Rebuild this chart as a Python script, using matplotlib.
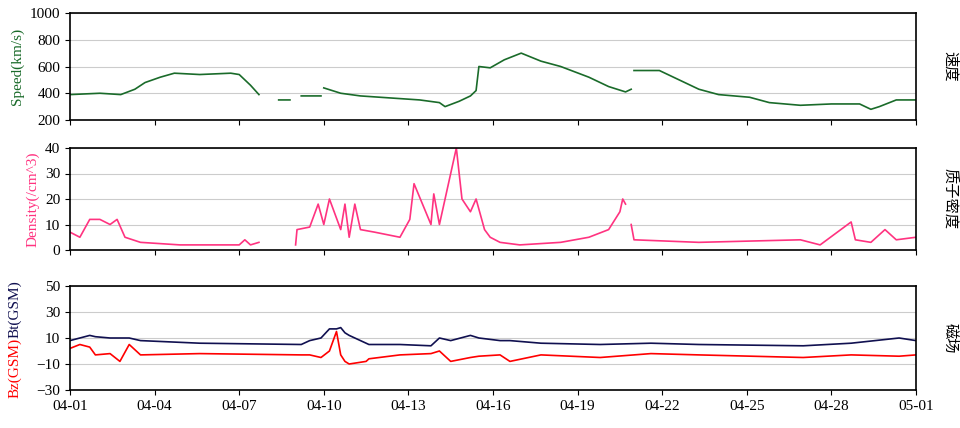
import numpy as np
import matplotlib
matplotlib.use("Agg")
import matplotlib.pyplot as plt

nan = np.nan
sp_t = [0,1.06,1.8,2.3,2.66,3.2,3.7,4.6,5.7,6.0,6.4,6.7,6.75,7.4,7.8,7.85,8.2,8.9,8.95,9.0,9.6,10.3,11,12.4,13.1,13.3,13.8,14.2,14.4,14.5,14.9,15.4,16,16.7,17.4,18.4,19.1,19.7,19.9,19.95,20.0,20.9,21.6,22.3,23,24.1,24.8,25.9,27,28,28.4,28.7,29.3,30]
sp_v = [390,400,390,430,480,520,550,540,550,540,460,390,nan,350,350,nan,380,380,nan,440,400,380,370,350,330,300,340,380,420,600,590,650,700,640,600,520,450,410,430,nan,570,570,500,430,390,370,330,310,320,320,280,300,350,350]

de_t = [0,0.35,0.7,1.06,1.42,1.67,1.95,2.5,3.9,6.0,6.2,6.4,6.7,6.75,7.4,7.45,8.0,8.05,8.5,8.8,9.0,9.2,9.6,9.75,9.9,10.1,10.3,10.8,11.7,12.05,12.2,12.5,12.8,12.9,13.1,13.5,13.7,13.9,14.2,14.4,14.7,14.9,15.25,15.95,17.4,18.4,19.1,19.5,19.6,19.7,19.75,19.9,20.0,22.3,25.9,26.6,27.7,27.85,28.4,28.9,29.3,30]
de_v = [7,5,12,12,10,12,5,3,2,2,4,2,3,nan,3,nan,2,8,9,18,10,20,8,18,5,18,8,7,5,12,26,18,10,22,10,30,40,20,15,20,8,5,3,2,3,5,8,15,20,18,nan,10,4,3,4,2,11,4,3,8,4,5]

b_t = [0,0.35,0.7,0.9,1.42,1.77,2.1,2.5,4.6,8.2,8.5,8.9,9.2,9.45,9.6,9.75,9.9,10.5,10.6,11.7,12.8,13.1,13.5,14.2,14.5,15.25,15.6,16.7,18.8,20.6,22.3,26,27.7,29.4,30]
bt_v = [8,10,12,11,10,10,10,8,6,5,8,10,17,17,18,14,12,6,5,5,4,10,8,12,10,8,8,6,5,6,5,4,6,10,8]
bz_v = [2,5,3,-3,-2,-8,5,-3,-2,-3,-3,-5,0,15,-3,-8,-10,-8,-6,-3,-2,0,-8,-5,-4,-3,-8,-3,-5,-2,-3,-5,-3,-4,-3]

ticks = list(range(0,31,3))
tick_labels = ["04-01","04-04","04-07","04-10","04-13","04-16","04-19","04-22","04-25","04-28","05-01"]

plt.rcParams['font.family'] = ['Liberation Serif','Noto Sans CJK SC']
fig = plt.figure(figsize=(9.6,4.28), dpi=100)
W,H = 960,428
def ax_at(x0,y0,x1,y1):
    return fig.add_axes([x0/W, 1-y1/H, (x1-x0)/W, (y1-y0)/H])
a1 = ax_at(70,13,916,120)
a2 = ax_at(70,148,916,250)
a3 = ax_at(70,286,916,390)

a1.plot(sp_t, sp_v, color='#1a6b2a', lw=1.2)
a1.set_ylim(200,1000); a1.set_yticks(range(200,1001,200))
a1.set_ylabel('Speed(km/s)', color='#1a6b2a')
a2.plot(de_t, de_v, color='#ff3380', lw=1.2)
a2.set_ylim(0,40); a2.set_yticks(range(0,41,10))
a2.set_ylabel('Density(/cm^3)', color='#ff3380')
a3.plot(b_t, bt_v, color='#101050', lw=1.2)
a3.plot(b_t, bz_v, color='red', lw=1.2)
a3.set_ylim(-30,50); a3.set_yticks(range(-30,51,20))
a3.text(-0.065,0.5,'Bz(GSM)',color='red',rotation=90,transform=a3.transAxes,ha='center',va='top',fontsize=11)
a3.text(-0.065,0.5,'Bt(GSM)',color='#101050',rotation=90,transform=a3.transAxes,ha='center',va='bottom',fontsize=11)

for a,lab in [(a1,'速度'),(a2,'质子密度'),(a3,'磁场')]:
    a.set_xlim(0,30); a.set_xticks(ticks)
    a.grid(axis='y', color='#cccccc', lw=0.8)
    a.tick_params(labelsize=11, direction='out')
    a.yaxis.label.set_size(11)
    a.text(1.04,0.5,lab,rotation=270,transform=a.transAxes,ha='center',va='center',fontsize=11,family=['Noto Sans CJK SC'])
    for s in a.spines.values(): s.set_linewidth(1.2)
a1.set_xticklabels([]); a2.set_xticklabels([])
a3.set_xticklabels(tick_labels)
fig.savefig('out.png', dpi=100)
